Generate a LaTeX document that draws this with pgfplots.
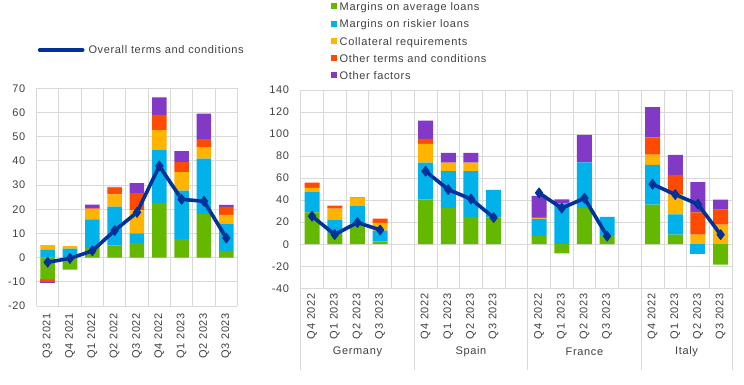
\documentclass[border=0pt]{standalone}
\usepackage{fontspec}
\setmainfont{Liberation Sans}
\newfontfamily\cf[LetterSpace=6]{Liberation Sans}
\usepackage{pgfplots}
\usepackage{pgfplotstable}
\pgfplotsset{compat=1.18}
\definecolor{cgreen}{HTML}{65B800}
\definecolor{cblue}{HTML}{00B1EA}
\definecolor{cyellow}{HTML}{FFB400}
\definecolor{cred}{HTML}{FF4B00}
\definecolor{cpurple}{HTML}{8139C6}
\definecolor{cline}{HTML}{003299}
\definecolor{cgrid}{HTML}{D9D9D9}
\definecolor{ctext}{HTML}{404040}

% left panel: euro area
\pgfplotstableread{
x g b y r p gn rn pn tot
0 0 3.2 2.0 0 0 -9.0 -1.1 -0.5 -1.9
1 0 3.7 1.1 0 0 -5.0 0 0 -0.3
2 3.9 11.9 4.1 0.5 1.5 0 0 0 2.8
3 5.1 16.0 5.0 2.9 0.3 0 0 0 11.2
4 6.1 3.9 9.5 7.2 4.1 0 0 0 18.7
5 22.6 22.0 8.1 6.3 7.3 0 0 0 37.9
6 7.6 20.1 7.7 4.1 4.5 0 0 0 24.1
7 18.0 22.9 4.8 3.3 10.5 0 0 0 23.3
8 2.8 11.3 3.6 3.3 0.8 0 0 0 8.1
}\lefttab

% right panel: countries
\pgfplotstableread{
x g b y r p gn bn tot
0 29.0 18.8 3.3 4.9 0 0 0 25.4
1 10.0 12.4 10.0 2.7 0 0 0 8.8
2 19.0 16.1 7.0 0.4 0 0 0 19.7
3 2.7 9.7 7.0 3.9 0 0 0 13.0
4 0 0 0 0 0 0 0 nan
5 40.8 33.3 17.0 4.5 16.7 0 0 66.3
6 33.0 33.3 7.8 0 8.8 0 0 49.6
7 24.8 41.5 7.8 0 8.8 0 0 41.1
8 24.2 25.1 0 0 0 0 0 24.2
9 0 0 0 0 0 0 0 nan
10 7.3 15.7 0.4 1.4 19.1 0 0 46.6
11 0 37.0 0 0 3.8 -8.2 0 32.7
12 33.0 41.4 0 0 24.8 0 0 41.8
13 8.2 16.6 0 0 0 0 0 7.3
14 0 0 0 0 0 0 0 nan
15 36.0 36.0 9.4 15.7 27.3 0 0 54.5
16 8.8 18.4 17.9 17.8 18.2 0 0 45.1
17 0 0 8.8 20.2 27.3 0 -9.1 36.3
18 0 0 17.9 13.6 9.0 -18.5 0 8.7
}\righttab

\tikzset{chartfont/.style={font=\cf\fontsize{11}{13}\selectfont, text=ctext}}
\pgfplotsset{
  leftgeo/.style={at={(36.5pt,78pt)}, anchor=south west, scale only axis,
    width=201pt, height=217.7pt, xmin=-0.5, xmax=8.5, ymin=-20, ymax=70},
  rightgeo/.style={at={(300.7pt,95.7pt)}, anchor=south west, scale only axis,
    width=431.3pt, height=198.3pt, xmin=-0.5, xmax=18.5, ymin=-40, ymax=140},
  lineplot/.style={cline, line width=3.6pt, line join=round,
    mark=diamond*, mark size=5pt, mark options={fill=cline, draw=cline, line width=0.8pt, solid}},
}

\begin{document}
\begin{tikzpicture}
\path[use as bounding box] (0pt,0pt) rectangle (744pt,384pt);

% ---------- left panel ----------
\begin{axis}[leftgeo,
  ybar stacked, bar width=14.5pt,
  ytick={-20,-10,...,70},
  xtick={0,...,8},
  xticklabels={Q3 2021,Q4 2021,Q1 2022,Q2 2022,Q3 2022,Q4 2022,Q1 2023,Q2 2023,Q3 2023},
  minor xtick={-0.5,0.5,...,8.5},
  xminorgrids=true, ymajorgrids=true, xmajorgrids=false,
  grid style={cgrid, line width=0.8pt},
  minor grid style={cgrid, line width=0.8pt},
  axis line style={draw=none},
  major tick length=0pt, minor tick length=0pt,
  tick style={draw=none},
  /pgf/number format/assume math mode=true,
  ticklabel style={chartfont},
  yticklabel style={anchor=east, inner sep=0pt, xshift=-11pt},
  xticklabel style={rotate=90, anchor=east, inner xsep=7pt, inner ysep=0pt},
]
\addplot[fill=cgreen, draw=none] table[x=x,y=g]{\lefttab};
\addplot[fill=cblue, draw=none] table[x=x,y=b]{\lefttab};
\addplot[fill=cyellow, draw=none] table[x=x,y=y]{\lefttab};
\addplot[fill=cred, draw=none] table[x=x,y=r]{\lefttab};
\addplot[fill=cpurple, draw=none] table[x=x,y=p]{\lefttab};
\end{axis}

\begin{axis}[leftgeo, hide axis, ybar stacked, bar width=14.5pt]
\addplot[fill=cgreen, draw=none] table[x=x,y=gn]{\lefttab};
\addplot[fill=cred, draw=none] table[x=x,y=rn]{\lefttab};
\addplot[fill=cpurple, draw=none] table[x=x,y=pn]{\lefttab};
\end{axis}

\begin{axis}[leftgeo, hide axis,
  legend style={at={(axis description cs:0.006,1.176)}, anchor=west, draw=none, fill=none,
    inner sep=0pt, chartfont, nodes={inner sep=0pt},
    /tikz/every odd column/.append style={column sep=4pt}},
  legend image code/.code={\draw[#1, mark=none, line cap=round, line width=3.6pt] (0pt,0pt) -- (43pt,0pt);},
]
\addplot[lineplot] table[x=x,y=tot]{\lefttab};
\addlegendentry{Overall terms and conditions}
\end{axis}

% ---------- right panel ----------
\begin{axis}[rightgeo, clip=false,
  ybar stacked, bar width=15pt,
  ytick={-40,-20,...,140},
  xtick={0,1,2,3,5,6,7,8,10,11,12,13,15,16,17,18},
  xticklabels={Q4 2022,Q1 2023,Q2 2023,Q3 2023,Q4 2022,Q1 2023,Q2 2023,Q3 2023,Q4 2022,Q1 2023,Q2 2023,Q3 2023,Q4 2022,Q1 2023,Q2 2023,Q3 2023},
  minor xtick={-0.5,0.5,...,18.5},
  xminorgrids=true, ymajorgrids=true, xmajorgrids=false,
  grid style={cgrid, line width=0.8pt},
  minor grid style={cgrid, line width=0.8pt},
  axis line style={draw=none},
  major tick length=0pt, minor tick length=0pt,
  tick style={draw=none},
  xtick pos=left,
  extra x ticks={-0.5,4.5,9.5,14.5,18.5},
  extra x tick labels={},
  extra x tick style={tick align=outside, major tick length=82pt,
    tick style={draw=cgrid, line width=0.8pt}, xmajorgrids=false, xminorgrids=false},
  /pgf/number format/assume math mode=true,
  ticklabel style={chartfont},
  yticklabel style={anchor=east, inner sep=0pt, xshift=-11.5pt},
  xticklabel style={rotate=90, anchor=east, inner xsep=5pt, inner ysep=0pt},
  legend style={at={(axis description cs:0.0703,1.444)}, anchor=north west, draw=none, fill=none,
    inner sep=0pt, chartfont, row sep=5.7pt,
    nodes={inner sep=0pt, text height=8.5pt, text depth=3pt},
    /tikz/every odd column/.append style={column sep=2.5pt}},
  legend cell align=left,
  legend image code/.code={\fill[#1,/tikz/.cd] (0pt,-1.5pt) rectangle (6pt,4.5pt);},
]
\addplot[fill=cgreen, draw=none] table[x=x,y=g]{\righttab};
\addlegendentry{Margins on average loans}
\addplot[fill=cblue, draw=none] table[x=x,y=b]{\righttab};
\addlegendentry{Margins on riskier loans}
\addplot[fill=cyellow, draw=none] table[x=x,y=y]{\righttab};
\addlegendentry{Collateral requirements}
\addplot[fill=cred, draw=none] table[x=x,y=r]{\righttab};
\addlegendentry{Other terms and conditions}
\addplot[fill=cpurple, draw=none] table[x=x,y=p]{\righttab};
\addlegendentry{Other factors}
\node[chartfont] at (axis description cs:0.1316,-0.321) {Germany};
\node[chartfont] at (axis description cs:0.3947,-0.321) {Spain};
\node[chartfont] at (axis description cs:0.6579,-0.321) {France};
\node[chartfont] at (axis description cs:0.8947,-0.321) {Italy};
\end{axis}

\begin{axis}[rightgeo, hide axis, ybar stacked, bar width=15pt]
\addplot[fill=cgreen, draw=none] table[x=x,y=gn]{\righttab};
\addplot[fill=cblue, draw=none] table[x=x,y=bn]{\righttab};
\end{axis}

\begin{axis}[rightgeo, hide axis, unbounded coords=jump]
\addplot[lineplot] table[x=x,y=tot]{\righttab};
\end{axis}

\end{tikzpicture}
\end{document}
